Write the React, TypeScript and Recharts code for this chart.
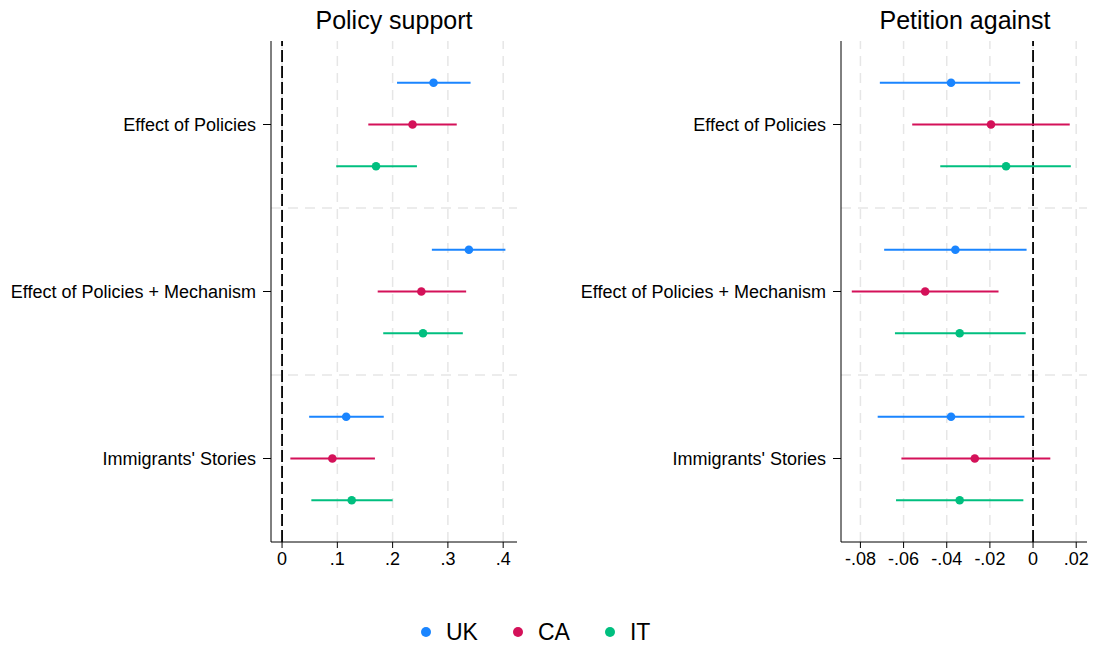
import React from "react";
import {
  ScatterChart,
  Scatter,
  XAxis,
  YAxis,
  ReferenceLine,
  ErrorBar,
} from "recharts";

const FONT = "'Liberation Sans', Arial, sans-serif";

const categories = ["Effect of Policies", "Effect of Policies + Mechanism", "Immigrants' Stories"];
const countries = ["UK", "CA", "IT"];
const countryColors = ["#1a85ff", "#d41159", "#00bf7f"];
const countryOffsets = [-0.25, 0, 0.25];

// Policy support: point estimates and 95% CI bounds, per category
const policyUK = [0.274, 0.338, 0.116];
const policyUKLo = [0.208, 0.271, 0.049];
const policyUKHi = [0.341, 0.404, 0.184];
const policyCA = [0.236, 0.252, 0.091];
const policyCALo = [0.156, 0.173, 0.015];
const policyCAHi = [0.316, 0.333, 0.168];
const policyIT = [0.17, 0.255, 0.126];
const policyITLo = [0.098, 0.183, 0.053];
const policyITHi = [0.244, 0.327, 0.2];

// Petition against
const petitionUK = [-0.038, -0.036, -0.038];
const petitionUKLo = [-0.071, -0.069, -0.072];
const petitionUKHi = [-0.006, -0.003, -0.004];
const petitionCA = [-0.0195, -0.05, -0.027];
const petitionCALo = [-0.056, -0.084, -0.061];
const petitionCAHi = [0.017, -0.016, 0.008];
const petitionIT = [-0.0125, -0.034, -0.034];
const petitionITLo = [-0.043, -0.064, -0.0635];
const petitionITHi = [0.0175, -0.0034, -0.0045];

const policyTicks = [0, 0.1, 0.2, 0.3, 0.4];
const petitionTicks = [-0.08, -0.06, -0.04, -0.02, 0, 0.02];
const groupSeparators = [1.5, 2.5];

const fmt = (v: number) => {
  if (v === 0) return "0";
  const s = String(Math.round(v * 1000) / 1000);
  return s.replace("0.", ".");
};

type Series = { pt: number[]; lo: number[]; hi: number[] };

const buildRows = (s: Series, ci: number) =>
  s.pt.map((p, i) => ({
    x: p,
    y: i + 1 + countryOffsets[ci],
    err: [p - s.lo[i], s.hi[i] - p],
  }));

const policySeries: Series[] = [
  { pt: policyUK, lo: policyUKLo, hi: policyUKHi },
  { pt: policyCA, lo: policyCALo, hi: policyCAHi },
  { pt: policyIT, lo: policyITLo, hi: policyITHi },
];
const petitionSeries: Series[] = [
  { pt: petitionUK, lo: petitionUKLo, hi: petitionUKHi },
  { pt: petitionCA, lo: petitionCALo, hi: petitionCAHi },
  { pt: petitionIT, lo: petitionITLo, hi: petitionITHi },
];

const GRID = "#e6e6e6";

function Panel(props: {
  series: Series[];
  domain: [number, number];
  ticks: number[];
  width: number;
  yWidth: number;
  rightMargin: number;
}) {
  const { series, domain, ticks, width, yWidth, rightMargin } = props;
  return (
    <ScatterChart
      width={width}
      height={600}
      margin={{ top: 41, right: rightMargin, bottom: 0, left: 0 }}
    >
      <XAxis
        type="number"
        dataKey="x"
        domain={domain}
        ticks={ticks}
        allowDataOverflow
        tickFormatter={fmt}
        tickSize={6}
        tickMargin={4}
        height={58}
        stroke="#000"
        tick={{ fill: "#000", fontSize: 18, fontFamily: FONT }}
        interval={0}
      />
      <YAxis
        type="number"
        dataKey="y"
        domain={[0.5, 3.5]}
        ticks={[1, 2, 3]}
        reversed
        allowDataOverflow
        tickFormatter={(v: number) => categories[Math.round(v) - 1] ?? ""}
        tickSize={8}
        tickMargin={7}
        width={yWidth}
        stroke="#000"
        tick={{ fill: "#000", fontSize: 18, fontFamily: FONT }}
        interval={0}
      />
      {ticks.map((t) => (
        <ReferenceLine key={"g" + t} x={t} stroke={GRID} strokeWidth={1.5} strokeDasharray="10 7" />
      ))}
      {groupSeparators.map((g) => (
        <ReferenceLine key={"s" + g} y={g} stroke={GRID} strokeWidth={1.5} strokeDasharray="10 7" />
      ))}
      <ReferenceLine x={0} stroke="#000" strokeWidth={1.8} strokeDasharray="12 4" />
      {series.map((s, ci) => (
        <Scatter
          key={countries[ci]}
          name={countries[ci]}
          data={buildRows(s, ci)}
          fill={countryColors[ci]}
          isAnimationActive={false}
          shape={(p: any) => (
            <circle cx={p.cx} cy={p.cy} r={4.3} fill={countryColors[ci]} />
          )}
        >
          <ErrorBar
            dataKey="err"
            direction="x"
            width={0}
            stroke={countryColors[ci]}
            strokeWidth={2}
            isAnimationActive={false}
          />
        </Scatter>
      ))}
    </ScatterChart>
  );
}

const titleStyle: React.CSSProperties = {
  position: "absolute",
  top: 8,
  width: 300,
  textAlign: "center",
  fontSize: 25,
  lineHeight: "25px",
  color: "#000",
  whiteSpace: "nowrap",
};

export default function App() {
  return (
    <div
      style={{
        position: "absolute",
        left: 0,
        top: 0,
        width: 1094,
        height: 645,
        background: "#fff",
        fontFamily: FONT,
        overflow: "hidden",
      }}
    >
      <div style={{ ...titleStyle, left: 394 - 150 }}>Policy support</div>
      <div style={{ ...titleStyle, left: 965 - 150 }}>Petition against</div>
      <div style={{ position: "absolute", left: 0, top: 0 }}>
        <Panel series={policySeries} domain={[-0.02, 0.425]} ticks={policyTicks} width={530} yWidth={271} rightMargin={13} />
      </div>
      <div style={{ position: "absolute", left: 560, top: 0 }}>
        <Panel series={petitionSeries} domain={[-0.089, 0.025]} ticks={petitionTicks} width={534} yWidth={281} rightMargin={7} />
      </div>
      <div
        style={{
          position: "absolute",
          left: 421,
          top: 617,
          display: "flex",
          alignItems: "center",
          fontSize: 23,
          lineHeight: "30px",
          color: "#000",
        }}
      >
        {countries.map((c, i) => (
          <div key={c} style={{ display: "flex", alignItems: "center", marginRight: 35 }}>
            <span
              style={{
                display: "inline-block",
                width: 10,
                height: 10,
                borderRadius: 5,
                background: countryColors[i],
                marginRight: 15,
              }}
            />
            <span>{c}</span>
          </div>
        ))}
      </div>
    </div>
  );
}
